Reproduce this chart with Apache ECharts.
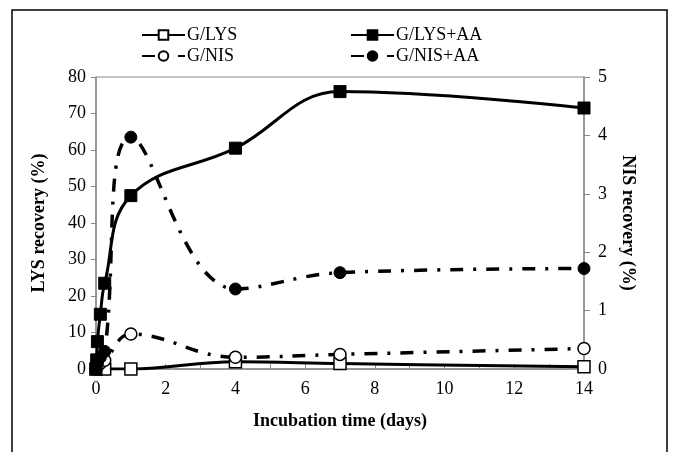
<!DOCTYPE html>
<html>
<head>
<meta charset="utf-8">
<script src="https://cdn.jsdelivr.net/npm/echarts@6/dist/echarts.min.js"></script>
<style>
  html, body { margin: 0; padding: 0; background: #fff; }
  #chart { width: 674px; height: 452px; }
</style>
</head>
<body>
<div id="chart"></div>
<script>
// [days, LYS recovery %]
const lysData = [[0, 0], [0.25, 0], [1, 0], [4, 2], [7, 1.5], [14, 0.6]]
const lysAaData = [[0, 0], [0.02, 2.5], [0.04, 7.5], [0.125, 15], [0.25, 23.5], [1, 47.5], [4, 60.5], [7, 76], [14, 71.5]]
// [days, NIS recovery %]
const nisData = [[0, 0], [0.04, 0.05], [0.125, 0.1], [0.25, 0.15], [1, 0.6], [4, 0.2], [7, 0.25], [14, 0.35]]
const nisAaData = [[0, 0], [0.04, 0.1], [0.125, 0.2], [0.25, 0.3], [1, 3.97], [4, 1.37], [7, 1.65], [14, 1.72]]

const serif = 'Liberation Serif'
const axisGray = '#888'
const dashDot = [13, 10, 3, 10]

const chart = echarts.init(document.getElementById('chart'))

function legendAt(name, left, top) {
  return {
    data: [name],
    left: left,
    top: top,
    itemWidth: 43,
    itemHeight: 12,
    itemGap: 2,
    textStyle: { fontFamily: serif, fontSize: 18, color: '#000', padding: [0, 0, 0, -3] }
  }
}

chart.setOption({
  animation: false,
  textStyle: { fontFamily: serif },
  graphic: [
    {
      type: 'rect',
      shape: { x: 12, y: 10, width: 655, height: 480 },
      style: { fill: 'none', stroke: '#000', lineWidth: 1.5 },
      silent: true
    }
  ],
  legend: [
    legendAt('G/LYS', 136, 21),
    legendAt('G/LYS+AA', 345, 21),
    legendAt('G/NIS', 136, 42),
    legendAt('G/NIS+AA', 345, 42)
  ],
  grid: {
    left: 96,
    right: 90,
    top: 77,
    bottom: 83,
    show: true,
    borderColor: axisGray,
    borderWidth: 1
  },
  xAxis: {
    type: 'value',
    min: 0,
    max: 14,
    interval: 1,
    name: 'Incubation time (days)',
    nameLocation: 'middle',
    nameGap: 43,
    nameTextStyle: { fontFamily: serif, fontSize: 18, fontWeight: 'bold', color: '#000' },
    axisLine: { show: true, lineStyle: { color: axisGray, width: 1.5 } },
    axisTick: { show: true, inside: true, length: 5, lineStyle: { color: axisGray } },
    axisLabel: {
      fontFamily: serif,
      fontSize: 18,
      color: '#000',
      margin: 11,
      formatter: function (v) { return v % 2 === 0 ? String(v) : '' }
    },
    splitLine: { show: false }
  },
  yAxis: [
    {
      type: 'value',
      min: 0,
      max: 80,
      interval: 10,
      name: 'LYS recovery (%)',
      nameLocation: 'middle',
      nameGap: 48,
      nameTextStyle: { fontFamily: serif, fontSize: 18, fontWeight: 'bold', color: '#000' },
      axisLine: { show: true, lineStyle: { color: axisGray, width: 1.5 } },
      axisTick: { show: true, length: 5, lineStyle: { color: axisGray } },
      axisLabel: { fontFamily: serif, fontSize: 18, color: '#000', margin: 10 },
      splitLine: { show: false }
    },
    {
      type: 'value',
      min: 0,
      max: 5,
      interval: 1,
      position: 'right',
      name: 'NIS recovery (%)',
      nameLocation: 'middle',
      nameRotate: -90,
      nameGap: 35,
      nameTextStyle: { fontFamily: serif, fontSize: 18, fontWeight: 'bold', color: '#000' },
      axisLine: { show: true, lineStyle: { color: axisGray, width: 1.5 } },
      axisTick: { show: true, length: 6, lineStyle: { color: axisGray } },
      axisLabel: { fontFamily: serif, fontSize: 18, color: '#000', margin: 14 },
      splitLine: { show: false }
    }
  ],
  series: [
    {
      name: 'G/LYS',
      type: 'line',
      data: lysData,
      smooth: 0.4,
      symbol: 'rect',
      symbolSize: 12,
      lineStyle: { color: '#000', width: 3 },
      itemStyle: { color: '#fff', borderColor: '#000', borderWidth: 1.5 },
      z: 3
    },
    {
      name: 'G/LYS+AA',
      type: 'line',
      data: lysAaData,
      smooth: 0.4,
      symbol: 'rect',
      symbolSize: 12,
      lineStyle: { color: '#000', width: 3 },
      itemStyle: { color: '#000', borderColor: '#000', borderWidth: 1 },
      z: 4
    },
    {
      name: 'G/NIS',
      type: 'line',
      yAxisIndex: 1,
      data: nisData,
      smooth: 0.4,
      symbol: 'circle',
      symbolSize: 12,
      lineStyle: { color: '#000', width: 3.5, type: dashDot },
      itemStyle: { color: '#fff', borderColor: '#000', borderWidth: 1.5 },
      z: 3
    },
    {
      name: 'G/NIS+AA',
      type: 'line',
      yAxisIndex: 1,
      data: nisAaData,
      smooth: 0.4,
      symbol: 'circle',
      symbolSize: 12,
      lineStyle: { color: '#000', width: 3.5, type: dashDot },
      itemStyle: { color: '#000', borderColor: '#000', borderWidth: 1 },
      z: 3
    }
  ]
})
</script>
</body>
</html>
